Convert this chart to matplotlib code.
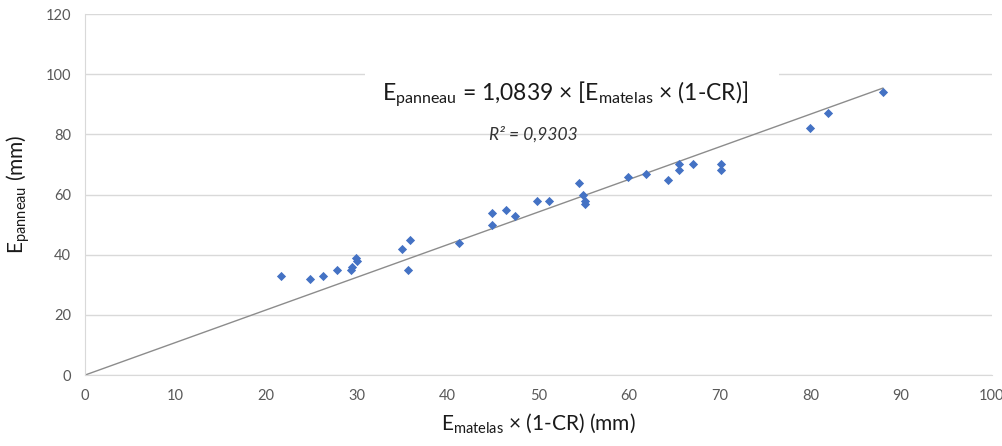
import numpy as np
from matplotlib import pyplot as plt
from matplotlib.patches import Rectangle

plt.rcParams['font.family'] = ['Lato', 'DejaVu Sans']
plt.rcParams['mathtext.default'] = 'regular'

# data
e_matelas_cr = [21.6, 24.8, 26.3, 27.8, 29.3, 29.4, 29.9, 30.0, 35.0, 35.9, 35.6,
                41.3, 44.9, 44.9, 46.4, 47.4, 49.9, 51.2, 54.5, 54.9, 55.2, 55.2,
                59.9, 61.9, 64.3, 65.5, 65.5, 67.1, 70.1, 70.1, 80.0, 82.0, 88.0]
e_panneau = [33, 32, 33, 35, 35, 36, 39, 38, 42, 45, 35,
             44, 50, 54, 55, 53, 58, 58, 64, 60, 58, 57,
             66, 67, 65, 70, 68, 70, 70, 68, 82, 87, 94]
slope = 1.0839
r2 = "0,9303"
x_ticks = np.arange(0, 101, 10)
y_ticks = np.arange(0, 121, 20)

fig = plt.figure(figsize=(10.03, 4.46), dpi=100)
ax = fig.add_axes([0.0847, 0.159, 0.904, 0.8095])

# trend line
x_fit = np.array([0, max(e_matelas_cr)])
ax.plot(x_fit, slope * x_fit, color="#8c8c8c", linewidth=1, zorder=2)

ax.scatter(e_matelas_cr, e_panneau, marker="D", s=22, color="#4472C4", zorder=3, linewidths=0)

ax.set_xlim(0, 100)
ax.set_ylim(0, 120)
ax.set_xticks(x_ticks)
ax.set_yticks(y_ticks)
ax.tick_params(length=0, labelsize=10.5, labelcolor="#595959", pad=10)
ax.grid(True, axis="y", color="#d9d9d9", linewidth=1, zorder=0)
ax.set_axisbelow(True)
for side in ["top", "right"]:
    ax.spines[side].set_visible(False)
for side in ["left", "bottom"]:
    ax.spines[side].set_color("#d9d9d9")

ax.set_xlabel("E$_{matelas}$ × (1-CR) (mm)", fontsize=15, color="#1a1a1a", labelpad=6)
ax.set_ylabel("E$_{panneau}$ (mm)", fontsize=15, color="#1a1a1a", labelpad=10)

# white label box hiding the 100 gridline behind the equation
ax.add_patch(Rectangle((30.9, 97.5), 45.7, 5, facecolor="white", edgecolor="none", zorder=1.5))
ax.text(53.0, 93.5, "E$_{panneau}$ = 1,0839 × [E$_{matelas}$ × (1-CR)]", fontsize=16.5,
        color="#1a1a1a", ha="center", va="center", zorder=4)
ax.text(49.5, 80.0, "R² = " + r2, fontsize=12.5, style="italic", color="#333333",
        ha="center", va="center", zorder=4)

plt.savefig("out.png", dpi=100)
